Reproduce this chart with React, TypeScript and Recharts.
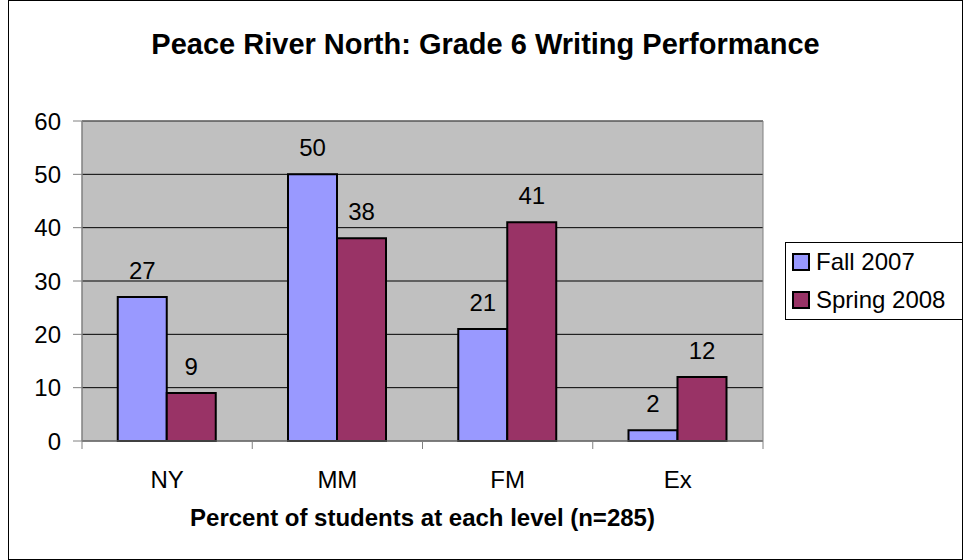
import React from 'react';
import {
  BarChart,
  Bar,
  XAxis,
  YAxis,
  CartesianGrid,
  LabelList,
  ReferenceArea,
} from 'recharts';

const levels = ['NY', 'MM', 'FM', 'Ex'];
const fall2007 = [27, 50, 21, 2];
const spring2008 = [9, 38, 41, 12];
const yTicks = [0, 10, 20, 30, 40, 50, 60];

const series = [
  { key: 'fall', name: 'Fall 2007', color: '#9999FF' },
  { key: 'spring', name: 'Spring 2008', color: '#993366' },
];

const data = levels.map((level, i) => ({
  level,
  fall: fall2007[i],
  spring: spring2008[i],
}));

const FONT = '"Liberation Sans", Arial, sans-serif';

// category label plus Excel-style tick marks on the band boundaries
function CategoryTick(props: any) {
  const { x, y, payload, index, visibleTicksCount } = props;
  const half = payload.offset || 0;
  const last = index === (visibleTicksCount ?? levels.length) - 1;
  return (
    <g>
      <line x1={x - half} y1={y} x2={x - half} y2={y + 8} stroke="#808080" />
      {last && <line x1={x + half} y1={y} x2={x + half} y2={y + 8} stroke="#808080" />}
      <text
        x={x}
        y={y + 38}
        textAnchor="middle"
        dominantBaseline="central"
        fontSize={24}
        fontFamily={FONT}
        fill="#000"
      >
        {payload.value}
      </text>
    </g>
  );
}

function LegendBox() {
  return (
    <div
      style={{
        position: 'absolute',
        left: 776,
        top: 241,
        width: 176,
        height: 76,
        border: '1px solid #000',
        background: '#fff',
        fontFamily: FONT,
        fontSize: 24,
        color: '#000',
      }}
    >
      {series.map((s) => (
        <div
          key={s.key}
          style={{ display: 'flex', alignItems: 'center', height: 38, paddingLeft: 6 }}
        >
          <span
            style={{
              display: 'inline-block',
              width: 14,
              height: 14,
              background: s.color,
              border: '2px solid #000',
              marginRight: 6,
            }}
          />
          <span style={{ whiteSpace: 'nowrap' }}>{s.name}</span>
        </div>
      ))}
    </div>
  );
}

export default function App() {
  return (
    <div
      style={{
        position: 'absolute',
        left: 8,
        top: 0,
        width: 953,
        height: 558,
        border: '1px solid #000',
        background: '#fff',
        fontFamily: FONT,
      }}
    >
      <div
        style={{
          position: 'absolute',
          left: 0,
          right: 0,
          top: 25,
          textAlign: 'center',
          fontWeight: 'bold',
          fontSize: 29,
          lineHeight: '36px',
        }}
      >
        Peace River North: Grade 6 Writing Performance
      </div>
      <BarChart
        width={953}
        height={558}
        data={data}
        margin={{ top: 120, right: 199, bottom: 58, left: 0 }}
        barCategoryGap="21%"
        barGap={0}
      >
        <CartesianGrid fill="#C0C0C0" stroke="#000" vertical={false} />
        <ReferenceArea y1={0} y2={60} fill="none" stroke="#808080" />
        <XAxis
          dataKey="level"
          height={60}
          axisLine={{ stroke: '#808080' }}
          tickLine={false}
          tickSize={0}
          tickMargin={0}
          interval={0}
          tick={<CategoryTick />}
          label={{
            value: 'Percent of students at each level (n=285)',
            position: 'bottom',
            offset: 8,
            fontSize: 24,
            fontWeight: 'bold',
            fontFamily: FONT,
            fill: '#000',
          }}
        />
        <YAxis
          width={73}
          domain={[0, 60]}
          ticks={yTicks}
          interval={0}
          axisLine={{ stroke: '#808080' }}
          tickLine={{ stroke: '#808080' }}
          tickSize={9}
          tickMargin={12}
          tick={{ fontSize: 24, fill: '#000', fontFamily: FONT }}
        />
        {series.map((s) => (
          <Bar
            key={s.key}
            dataKey={s.key}
            name={s.name}
            fill={s.color}
            stroke="#000"
            strokeWidth={2}
            isAnimationActive={false}
          >
            <LabelList
              dataKey={s.key}
              position="top"
              offset={18}
              fontSize={24}
              fill="#000"
              fontFamily={FONT}
            />
          </Bar>
        ))}
      </BarChart>
      <LegendBox />
    </div>
  );
}
